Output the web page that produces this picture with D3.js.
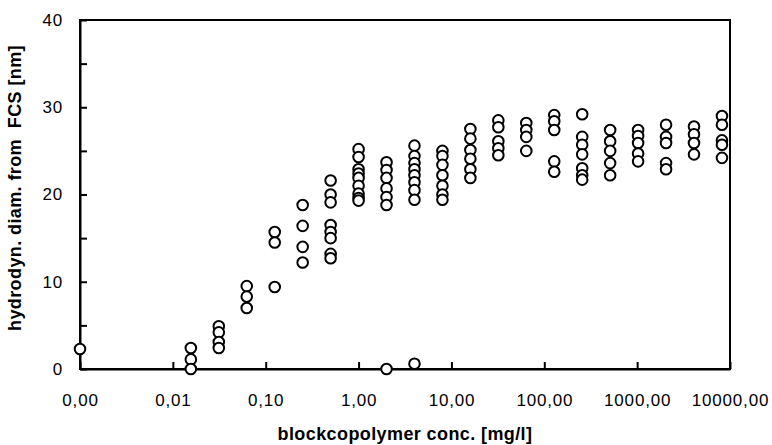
<!DOCTYPE html>
<html>
<head>
<meta charset="utf-8">
<script src="https://cdn.jsdelivr.net/npm/d3@7"></script>
<style>
  body { margin: 0; background: #fff; }
  svg { display: block; font-family: "Liberation Sans", Arial, sans-serif; }
</style>
</head>
<body>
<svg width="772" height="445"></svg>
<script>
// concentrations (mg/l), doubling series; the 0,00 point sits on the left edge
var concentrations = [0.001, 0.015625, 0.03125, 0.0625, 0.125, 0.25, 0.5, 1, 2, 4, 8,
    16, 32, 64, 128, 256, 512, 1024, 2048, 4096, 8192];

// hydrodynamic diameters (nm) measured at each concentration
var diameters = [
    [2.3],
    [2.4, 1.1, 0],
    [4.9, 4.2, 3.1, 2.4],
    [9.5, 8.3, 7.0],
    [15.7, 14.5, 9.4],
    [18.8, 16.4, 14.0, 12.2],
    [21.6, 20.0, 19.1, 16.5, 15.7, 15.0, 13.2, 12.7],
    [25.2, 24.3, 22.9, 22.4, 21.9, 21.0, 20.1, 19.6, 19.3],
    [23.7, 22.8, 21.9, 20.7, 19.7, 18.8, 0],
    [25.6, 24.4, 23.6, 22.9, 22.2, 21.4, 20.5, 19.4, 0.6],
    [25.0, 24.4, 23.4, 22.2, 21.0, 20.0, 19.4],
    [27.5, 26.4, 25.1, 24.1, 22.9, 21.9],
    [28.5, 27.7, 26.1, 25.3, 24.5],
    [28.2, 27.4, 26.6, 25.0],
    [29.1, 28.4, 27.4, 23.8, 22.6],
    [29.2, 26.6, 25.7, 24.6, 23.0, 22.2, 21.7],
    [27.4, 26.1, 25.0, 23.6, 22.2],
    [27.4, 26.7, 25.9, 24.7, 23.8],
    [28.0, 26.6, 25.9, 23.6, 22.9],
    [27.8, 26.9, 25.9, 24.6],
    [29.0, 28.0, 26.2, 25.7, 24.2]
];

var xTickValues = [0.001, 0.01, 0.1, 1, 10, 100, 1000, 10000];
var xTickLabels = ["0,00", "0,01", "0,10", "1,00", "10,00", "100,00", "1000,00", "10000,00"];
var yTickValues = [0, 5, 10, 15, 20, 25, 30, 35, 40];

var margin = {top: 20, right: 42, bottom: 76, left: 80};
var width = 772 - margin.left - margin.right;
var height = 445 - margin.top - margin.bottom;

var svg = d3.select("svg");
var g = svg.append("g").attr("transform", "translate(" + margin.left + "," + margin.top + ")");

var x = d3.scaleLog().domain([0.001, 10000]).range([0, width]);
var y = d3.scaleLinear().domain([0, 40]).range([height, 0]);

// flatten the columns into points
var points = [];
concentrations.forEach(function(c, i) {
    diameters[i].forEach(function(d) {
        points.push({c: c, d: d});
    });
});

// frame
g.append("rect")
    .attr("width", width).attr("height", height)
    .attr("fill", "none").attr("stroke", "#000").attr("stroke-width", 2);

// x axis, ticks pointing in
var xAxis = g.append("g")
    .attr("transform", "translate(0," + height + ")")
    .call(d3.axisBottom(x).tickValues(xTickValues)
        .tickSizeInner(-7).tickSizeOuter(0).tickPadding(25)
        .tickFormat(function(d, i) { return xTickLabels[i]; }));
xAxis.select(".domain").attr("stroke-width", 2);
xAxis.selectAll(".tick line").attr("stroke-width", 2);
xAxis.selectAll("text").attr("font-size", 17).attr("letter-spacing", 0.8).attr("fill", "#000");

// y axis, ticks every 5, labels every 10
var yAxis = g.append("g")
    .call(d3.axisLeft(y).tickValues(yTickValues)
        .tickSizeInner(-7).tickSizeOuter(0).tickPadding(17)
        .tickFormat(function(d) { return d % 10 === 0 ? d : ""; }));
yAxis.select(".domain").attr("stroke-width", 2);
yAxis.selectAll(".tick line").attr("stroke-width", 2);
yAxis.selectAll("text").attr("font-size", 17).attr("letter-spacing", 0.8).attr("fill", "#000");

// data points
g.selectAll("circle.pt")
    .data(points)
    .enter().append("circle")
    .attr("class", "pt")
    .attr("cx", function(d) { return x(d.c); })
    .attr("cy", function(d) { return y(d.d); })
    .attr("r", 5.3)
    .attr("fill", "#fff")
    .attr("stroke", "#000")
    .attr("stroke-width", 2);

// axis titles
svg.append("text")
    .attr("x", margin.left + width / 2).attr("y", 440)
    .attr("text-anchor", "middle")
    .attr("font-size", 18).attr("font-weight", "bold").attr("letter-spacing", 0.4)
    .text("blockcopolymer conc. [mg/l]");

svg.append("text")
    .attr("transform", "translate(21,188) rotate(-90)")
    .attr("text-anchor", "middle")
    .attr("font-size", 18).attr("font-weight", "bold").attr("letter-spacing", 0.4)
    .style("white-space", "pre")
    .text("hydrodyn. diam. from  FCS [nm]");
</script>
</body>
</html>
